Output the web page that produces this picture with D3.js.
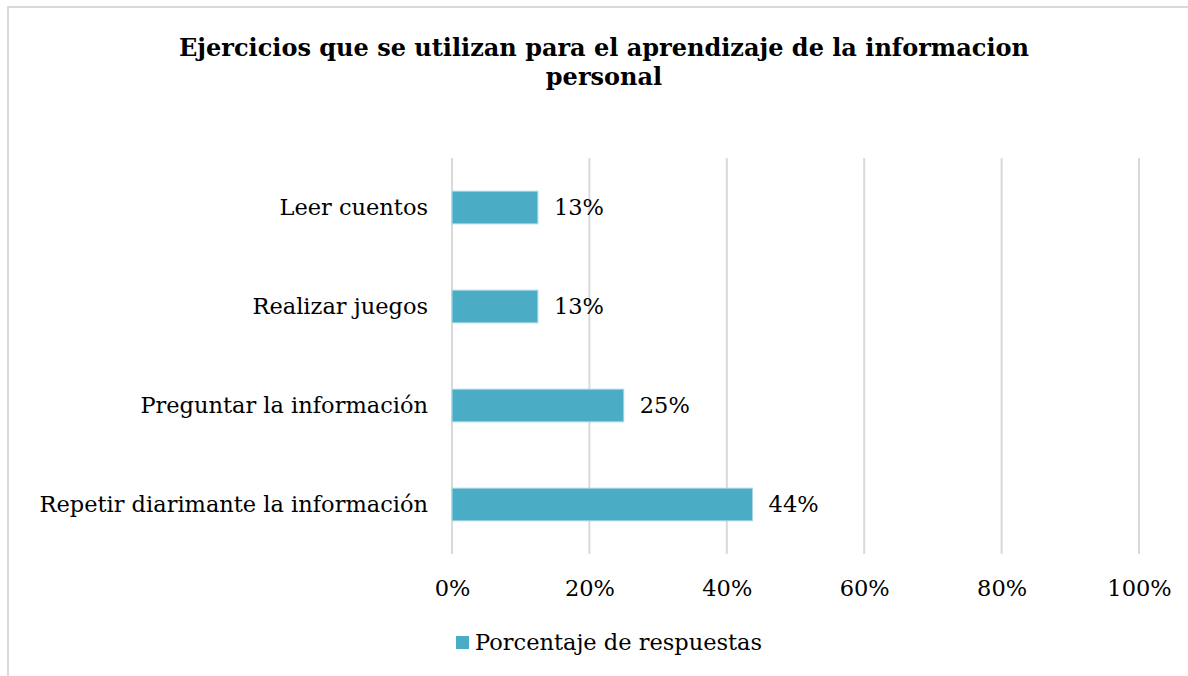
<!DOCTYPE html>
<html>
<head>
<meta charset="utf-8">
<script src="https://cdn.jsdelivr.net/npm/d3@7"></script>
<style>
  body { margin: 0; background: #fff; }
  text { font-family: "DejaVu Serif", serif; fill: #000; }
</style>
</head>
<body>
<script>
// chart data
var categories = ["Leer cuentos", "Realizar juegos", "Preguntar la información", "Repetir diarimante la información"];
var values = [12.5, 12.5, 25, 43.75];
var valueLabels = ["13%", "13%", "25%", "44%"];
var ticks = [0, 20, 40, 60, 80, 100];
var titleLines = ["Ejercicios que se utilizan para el aprendizaje de la informacion", "personal"];
var seriesName = "Porcentaje de respuestas";

var w = 1188, h = 676;
var barColor = "#4bacc6";
var fontSize = "22.5px";

var svg = d3.select("body").append("svg")
    .attr("width", w)
    .attr("height", h);

// chart border
svg.append("rect")
    .attr("x", 8)
    .attr("y", 7)
    .attr("width", w)
    .attr("height", h)
    .style("fill", "none")
    .style("stroke", "#d9d9d9")
    .style("stroke-width", 2);

// title
svg.selectAll(".title")
    .data(titleLines)
    .enter()
    .append("text")
    .attr("class", "title")
    .attr("x", 604)
    .attr("y", function (d, i) { return 56 + i * 29; })
    .attr("text-anchor", "middle")
    .style("font-weight", "bold")
    .style("font-size", "24px")
    .text(function (d) { return d; });

var x = d3.scaleLinear()
    .domain([0, 100])
    .range([452, 1139]);

var y = d3.scaleBand()
    .domain(categories)
    .range([158, 554])
    .paddingInner(0.67)
    .paddingOuter(0.335);

// vertical gridlines
svg.selectAll(".grid")
    .data(ticks)
    .enter()
    .append("line")
    .attr("class", "grid")
    .attr("x1", function (d) { return x(d); })
    .attr("x2", function (d) { return x(d); })
    .attr("y1", 158)
    .attr("y2", 554)
    .style("stroke", "#d9d9d9")
    .style("stroke-width", 2);

// x axis labels
var xAxis = d3.axisBottom(x)
    .tickValues(ticks)
    .tickSize(0)
    .tickPadding(0)
    .tickFormat(function (d) { return d + "%"; });

var gx = svg.append("g")
    .attr("transform", "translate(0, 588)")
    .call(xAxis);
gx.select(".domain").remove();
gx.selectAll("text")
    .attr("dy", "0.35em")
    .style("font-family", "\"DejaVu Serif\", serif")
    .style("font-size", fontSize)
    .style("fill", "#000");

// category labels
var yAxis = d3.axisLeft(y)
    .tickSize(0)
    .tickPadding(24);
var gy = svg.append("g")
    .attr("transform", "translate(452, 0)")
    .call(yAxis);
gy.select(".domain").remove();
gy.selectAll("text")
    .style("font-family", "\"DejaVu Serif\", serif")
    .style("font-size", fontSize)
    .style("fill", "#000");

// bars
svg.selectAll(".bar")
    .data(values)
    .enter()
    .append("rect")
    .attr("class", "bar")
    .attr("x", x(0))
    .attr("y", function (d, i) { return y(categories[i]); })
    .attr("width", function (d) { return x(d) - x(0); })
    .attr("height", y.bandwidth())
    .style("fill", barColor)
    .style("stroke", "#a9d8e4")
    .style("stroke-width", 1);

// value labels
svg.selectAll(".valLabel")
    .data(values)
    .enter()
    .append("text")
    .attr("class", "valLabel")
    .attr("x", function (d) { return x(d) + 16; })
    .attr("y", function (d, i) { return y(categories[i]) + y.bandwidth() / 2; })
    .attr("dy", "0.35em")
    .style("font-size", fontSize)
    .text(function (d, i) { return valueLabels[i]; });

// legend
svg.append("rect")
    .attr("x", 456)
    .attr("y", 636)
    .attr("width", 13)
    .attr("height", 13)
    .style("fill", barColor);
svg.append("text")
    .attr("x", 475)
    .attr("y", 642)
    .attr("dy", "0.35em")
    .style("font-size", fontSize)
    .text(seriesName);
</script>
</body>
</html>
